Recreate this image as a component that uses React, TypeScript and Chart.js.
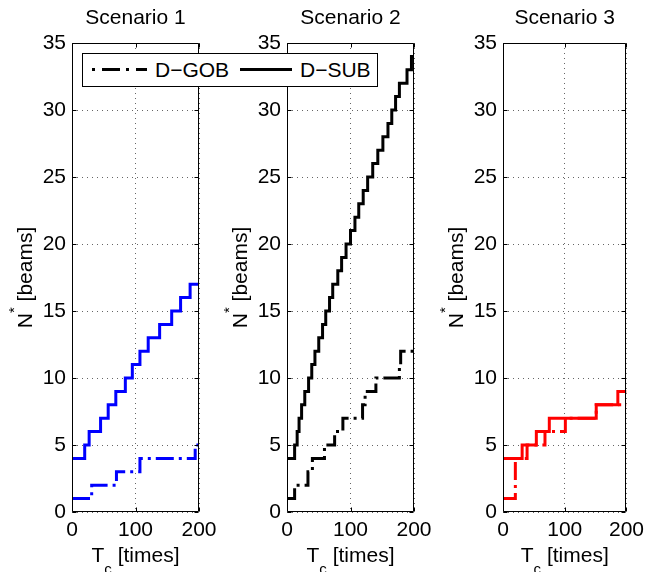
import React, { useEffect, useRef } from "react";
import { Chart, registerables } from "chart.js";

Chart.register(...registerables);

// ---------- data ----------
const xTickValues = [0, 100, 200];
const yTickValues = [0, 5, 10, 15, 20, 25, 30, 35];
const scenarioTitles = ["Scenario 1", "Scenario 2", "Scenario 3"];
const seriesNames = ["D\u2212GOB", "D\u2212SUB"];
const xLabelParts = ["T", "c", " [times]"]; // main, subscript, rest
const yLabelParts = ["N", "*", " [beams]"]; // main, superscript, rest

const s1GobX = [0, 31, 70, 107, 194, 200];
const s1GobY = [1, 2, 3, 4, 5, 5];
const s1SubX = [0, 20, 27, 45, 57, 69, 84, 95, 107, 120, 138, 157, 171, 186, 200];
const s1SubY = [4, 5, 6, 7, 8, 9, 10, 11, 12, 13, 14, 15, 16, 17, 17];

const s2GobX = [0, 12, 33, 40, 59, 75, 88, 119, 123, 140, 177, 179, 200];
const s2GobY = [1, 2, 3, 4, 5, 6, 7, 8, 9, 10, 11, 12, 12];
const s2SubX = [0, 12, 16, 19, 23, 28, 34, 39, 44, 50, 56, 61, 67, 72, 80, 86, 93, 100, 107, 113, 120, 127, 135, 143, 151, 159, 165, 171, 177, 189, 196, 200];
const s2SubY = [4, 5, 6, 7, 8, 9, 10, 11, 12, 13, 14, 15, 16, 17, 18, 19, 20, 21, 22, 23, 24, 25, 26, 27, 28, 29, 30, 31, 32, 33, 34, 34];

const s3GobX = [0, 20, 39, 68, 101, 151, 200];
const s3GobY = [1, 4, 5, 6, 7, 8, 8];
const s3SubX = [0, 31, 54, 75, 151, 186, 200];
const s3SubY = [4, 5, 6, 7, 8, 9, 9];

const scenarioColors = ["#0000ff", "#000000", "#ff0000"];

// ---------- helpers ----------
const FONT = "'Liberation Sans', Arial, Helvetica, sans-serif";
const DASH_DOT = [18, 5, 3, 5];

function toPoints(xs: number[], ys: number[]) {
  return xs.map((x, i) => ({ x, y: ys[i] }));
}

const panels = [
  { title: scenarioTitles[0], color: scenarioColors[0], gob: toPoints(s1GobX, s1GobY), sub: toPoints(s1SubX, s1SubY), left: 0, width: 240, axisW: 72, padRight: 41 },
  { title: scenarioTitles[1], color: scenarioColors[1], gob: toPoints(s2GobX, s2GobY), sub: toPoints(s2SubX, s2SubY), left: 215, width: 240, axisW: 72, padRight: 41 },
  { title: scenarioTitles[2], color: scenarioColors[2], gob: toPoints(s3GobX, s3GobY), sub: toPoints(s3SubX, s3SubY), left: 430, width: 220, axisW: 73, padRight: 20 },
];

const frameAndLabels = {
  id: "frameAndLabels",
  afterDraw(chart: any) {
    const ctx = chart.ctx;
    const ca = chart.chartArea;
    const xs = chart.scales.x;
    const ys = chart.scales.y;
    ctx.save();
    ctx.strokeStyle = "#000";
    ctx.lineWidth = 1;
    const L = Math.round(ca.left) + 0.5;
    const R = Math.round(ca.right) - 0.5;
    const T = Math.round(ca.top) + 0.5;
    const B = Math.round(ca.bottom) - 0.5;
    ctx.beginPath();
    ctx.rect(L, T, R - L, B - T);
    // inward ticks
    const tk = 4;
    for (const v of yTickValues) {
      const p = Math.round(ys.getPixelForValue(v)) + 0.5;
      ctx.moveTo(L, p); ctx.lineTo(L + tk, p);
      ctx.moveTo(R, p); ctx.lineTo(R - tk, p);
    }
    for (const v of xTickValues) {
      const p = Math.round(xs.getPixelForValue(v)) + 0.5;
      ctx.moveTo(p, B); ctx.lineTo(p, B - tk);
      ctx.moveTo(p, T); ctx.lineTo(p, T + tk);
    }
    ctx.stroke();

    ctx.fillStyle = "#000";
    ctx.textAlign = "left";
    ctx.textBaseline = "alphabetic";
    const big = "21px " + FONT;
    const small = "15px " + FONT;

    // x label: T_c [times]
    ctx.font = big;
    const w0 = ctx.measureText(xLabelParts[0]).width;
    const w2 = ctx.measureText(xLabelParts[2]).width;
    ctx.font = small;
    const w1 = ctx.measureText(xLabelParts[1]).width;
    const totalX = w0 + w1 + w2;
    const x0 = (ca.left + ca.right) / 2 - totalX / 2;
    const xb = 562;
    ctx.font = big;
    ctx.fillText(xLabelParts[0], x0, xb);
    ctx.font = small;
    ctx.fillText(xLabelParts[1], x0 + w0, xb + 12);
    ctx.font = big;
    ctx.fillText(xLabelParts[2], x0 + w0 + w1, xb);

    // y label: N^* [beams]
    ctx.font = big;
    const v0 = ctx.measureText(yLabelParts[0]).width;
    const v2 = ctx.measureText(yLabelParts[2]).width;
    ctx.font = small;
    const v1 = ctx.measureText(yLabelParts[1]).width;
    const totalY = v0 + v1 + v2;
    ctx.translate(ca.left - 40, (ca.top + ca.bottom) / 2);
    ctx.rotate(-Math.PI / 2);
    const y0 = -totalY / 2;
    ctx.font = big;
    ctx.fillText(yLabelParts[0], y0, 0);
    ctx.font = small;
    ctx.fillText(yLabelParts[1], y0 + v0, -13);
    ctx.font = big;
    ctx.fillText(yLabelParts[2], y0 + v0 + v1, 0);
    ctx.restore();
  },
};

function Panel({ cfg }: { cfg: any }) {
  const ref = useRef<HTMLCanvasElement | null>(null);
  useEffect(() => {
    if (!ref.current) return;
    const chart = new Chart(ref.current, {
      type: "line",
      data: {
        datasets: [
          {
            label: seriesNames[0],
            data: cfg.gob,
            borderColor: cfg.color,
            borderWidth: 3,
            borderDash: DASH_DOT,
            borderCapStyle: "butt",
            borderJoinStyle: "miter",
            stepped: true,
            pointRadius: 0,
            fill: false,
          },
          {
            label: seriesNames[1],
            data: cfg.sub,
            borderColor: cfg.color,
            borderWidth: 3,
            borderCapStyle: "butt",
            borderJoinStyle: "miter",
            stepped: true,
            pointRadius: 0,
            fill: false,
          },
        ],
      },
      options: {
        animation: false,
        responsive: false,
        devicePixelRatio: 1,
        events: [],
        layout: { padding: { left: 0, right: cfg.padRight, top: 0, bottom: 0 } },
        plugins: {
          legend: { display: false },
          tooltip: { enabled: false },
          title: {
            display: true,
            text: cfg.title,
            fullSize: false,
            color: "#000",
            font: { family: FONT, size: 21, weight: "normal", lineHeight: 1.2 },
            padding: { top: 6, bottom: 11.8 },
          },
        },
        scales: {
          x: {
            type: "linear",
            min: 0,
            max: 200,
            afterBuildTicks: (s: any) => { s.ticks = xTickValues.map((v) => ({ value: v })); },
            afterFit: (s: any) => { s.height = 60; },
            ticks: { color: "#000", font: { family: FONT, size: 21 }, padding: 6, maxRotation: 0, autoSkip: false },
            grid: { color: "#666", lineWidth: 1, drawTicks: false },
            border: { display: false, dash: [1, 4] },
          },
          y: {
            type: "linear",
            min: 0,
            max: 35,
            afterBuildTicks: (s: any) => { s.ticks = yTickValues.map((v) => ({ value: v })); },
            afterFit: (s: any) => { s.width = cfg.axisW; },
            ticks: { color: "#000", font: { family: FONT, size: 21 }, padding: 6, autoSkip: false },
            grid: { color: "#666", lineWidth: 1, drawTicks: false },
            border: { display: false, dash: [1, 4] },
          },
        },
      },
      plugins: [frameAndLabels],
    } as any);
    return () => chart.destroy();
  }, []);
  return (
    <canvas
      ref={ref}
      width={cfg.width}
      height={572}
      style={{ position: "absolute", left: cfg.left, top: 0, width: cfg.width, height: 572 }}
    />
  );
}

function Legend() {
  return (
    <svg
      width={300}
      height={40}
      style={{ position: "absolute", left: 80, top: 51, zIndex: 5 }}
    >
      <rect x={2.5} y={2.5} width={295} height={33} fill="#fff" stroke="#000" strokeWidth={1} />
      <line x1={12} x2={67} y1={18.5} y2={18.5} stroke="#000" strokeWidth={3} strokeDasharray="3 7 18 6" />
      <text x={75} y={26} fontSize={21} fontFamily={FONT} fill="#000">{seriesNames[0]}</text>
      <line x1={160} x2={212} y1={18.5} y2={18.5} stroke="#000" strokeWidth={3} />
      <text x={220} y={26} fontSize={21} fontFamily={FONT} fill="#000">{seriesNames[1]}</text>
    </svg>
  );
}

export default function App() {
  return (
    <div style={{ position: "absolute", left: 0, top: 0, width: 650, height: 572, background: "#fff", overflow: "hidden" }}>
      {panels.map((p, i) => (
        <Panel key={i} cfg={p} />
      ))}
      <Legend />
    </div>
  );
}
